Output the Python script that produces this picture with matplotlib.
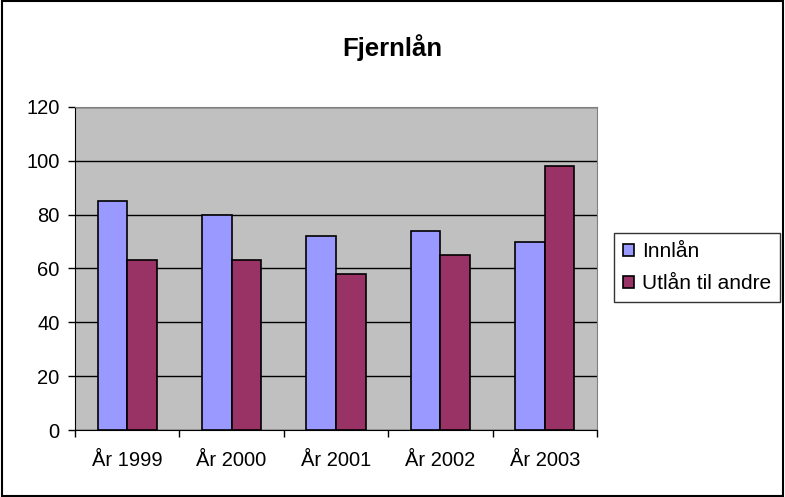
import matplotlib.pyplot as plt
import numpy as np
from matplotlib.patches import Rectangle

plt.rcParams['font.family'] = ['Liberation Sans', 'DejaVu Sans']

# Data
years = ['År 1999', 'År 2000', 'År 2001', 'År 2002', 'År 2003']
innlan = [85, 80, 72, 74, 70]
utlan = [63, 63, 58, 65, 98]

fig = plt.figure(figsize=(7.85, 4.97), dpi=100)
ax = fig.add_axes([0.0955, 0.1348, 0.665, 0.65])

x = np.arange(len(years))
w = 0.284
ax.bar(x - w / 2, innlan, w, color='#9999FF', edgecolor='black', linewidth=1.2, label='Innlån', zorder=3)
ax.bar(x + w / 2, utlan, w, color='#993366', edgecolor='black', linewidth=1.2, label='Utlån til andre', zorder=3)

ax.set_facecolor('#C0C0C0')
ax.set_xlim(-0.5, 4.5)
ax.set_ylim(0, 120)
ax.set_yticks(range(0, 121, 20))
ax.yaxis.grid(True, color='black', linewidth=1, zorder=1)
ax.set_axisbelow(True)

ax.set_xticks(x)
ax.set_xticklabels(years, fontsize=14.5)
ax.tick_params(axis='x', which='major', length=0, pad=15)
ax.set_xticks(np.arange(-0.5, 5, 1), minor=True)
ax.tick_params(axis='x', which='minor', length=5, direction='out', width=1)
ax.tick_params(axis='y', length=5, direction='out', labelsize=14.5, width=1, pad=6)

ax.spines['top'].set_color('#808080')
ax.spines['right'].set_color('#808080')
ax.spines['left'].set_color('black')
ax.spines['bottom'].set_color('black')

fig.text(0.5, 0.905, 'Fjernlån', ha='center', va='center', fontsize=18.5, fontweight='bold')

leg = ax.legend(loc='upper left', bbox_to_anchor=(0.782, 0.531), bbox_transform=fig.transFigure,
                fontsize=15, frameon=True, fancybox=False, edgecolor='black',
                handlelength=0.5, handleheight=0.5, handletextpad=0.4, borderpad=0.45,
                borderaxespad=0, labelspacing=0.6)
leg.get_frame().set_linewidth(1)

# outer border of the chart
fig.patches.append(Rectangle((0.002, 0.003), 0.995, 0.994, transform=fig.transFigure,
                             fill=False, edgecolor='black', linewidth=1.5))

fig.savefig('out.png', dpi=100)
